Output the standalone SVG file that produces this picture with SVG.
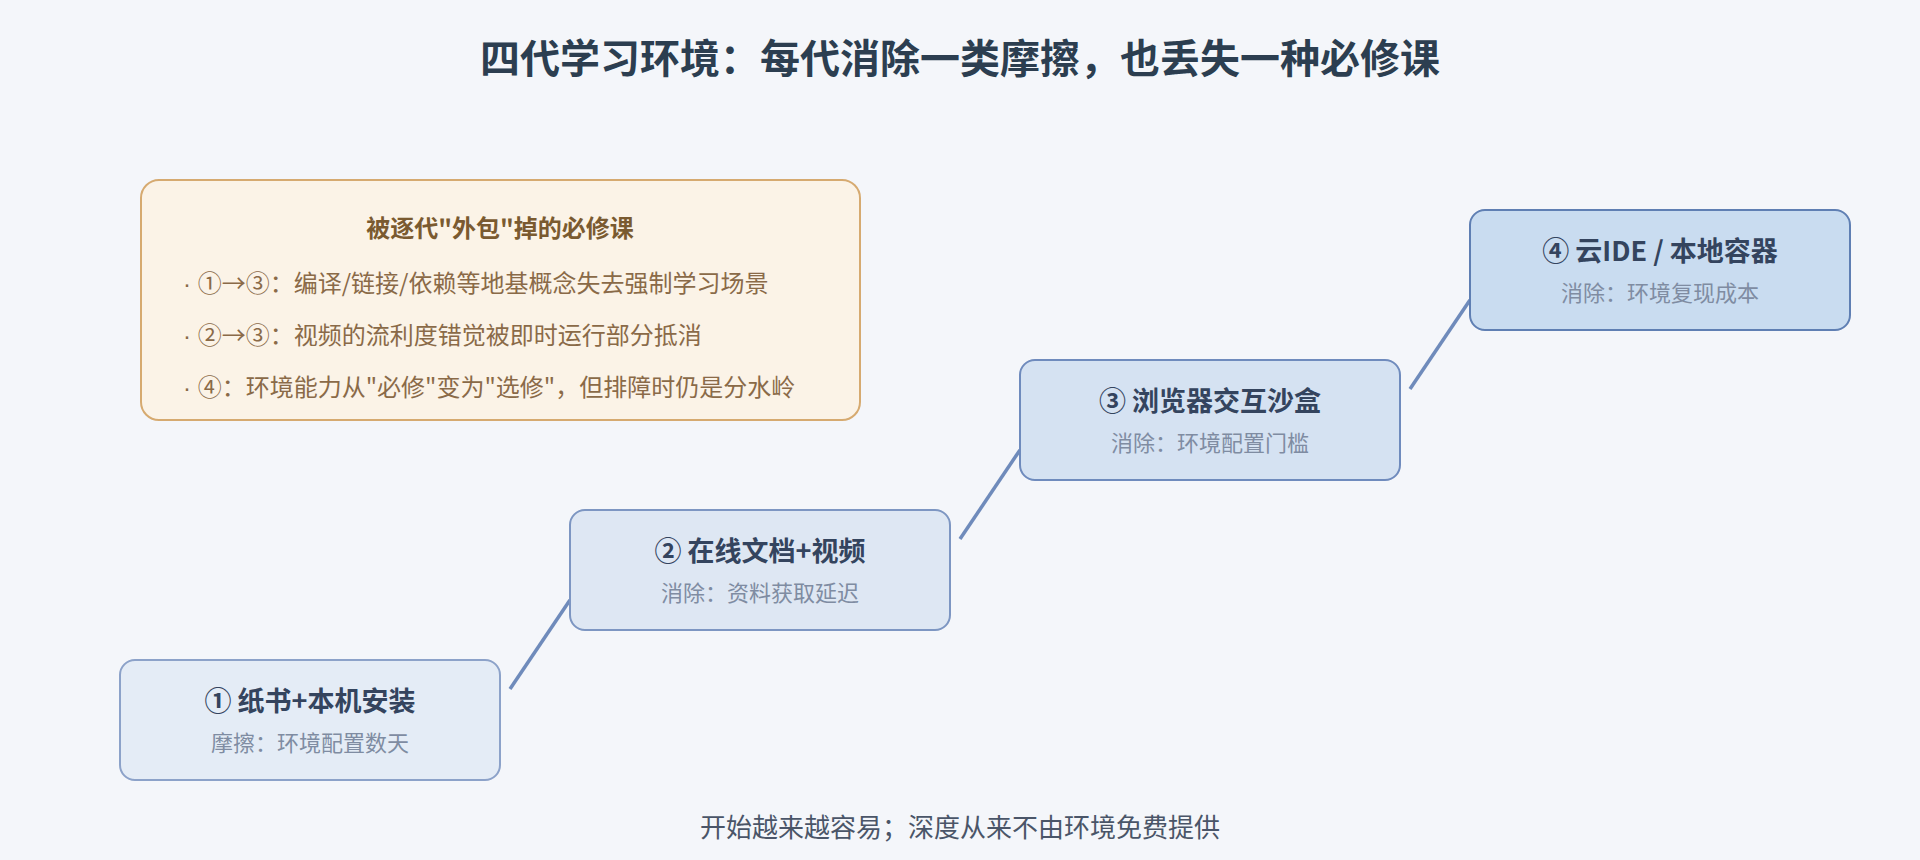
<svg xmlns="http://www.w3.org/2000/svg" width="1920" height="860" viewBox="0 0 1920 860">
<style>
text{font-family:"Noto Sans CJK SC","Liberation Sans",sans-serif;}
.title{font-size:40px;font-weight:700;fill:#2c3e50;text-anchor:middle;}
.nt{font-size:27px;font-weight:700;fill:#34445e;text-anchor:middle;}
.ns{font-size:22px;fill:#7f8ca2;text-anchor:middle;}
.node{stroke-width:2;}
.conn{stroke:#6f8bbb;stroke-width:3.5;fill:none;stroke-linecap:butt;}
.nh{font-size:24px;font-weight:700;fill:#7a5a30;text-anchor:middle;}
.nl{font-size:24px;fill:#8a6a48;}
.dot{font-family:"Liberation Sans",sans-serif;}
.foot{font-size:26px;fill:#4a5568;text-anchor:middle;}
</style>
<rect width="1920" height="860" fill="#f4f6fa"/>
<text class="title" x="960" y="73">四代学习环境：每代消除一类摩擦，也丢失一种必修课</text>

<g id="note">
<rect x="141" y="180" width="719" height="240" rx="18" fill="#fbf3e7" stroke="#d6aa70" stroke-width="2"/>
<text class="nh" x="500" y="237">被逐代"外包"掉的必修课</text>
<text class="nl" x="183" y="292"><tspan class="dot">· </tspan>①→③：编译/链接/依赖等地基概念失去强制学习场景</text>
<text class="nl" x="183" y="344"><tspan class="dot">· </tspan>②→③：视频的流利度错觉被即时运行部分抵消</text>
<text class="nl" x="183" y="396"><tspan class="dot">· </tspan>④：环境能力从"必修"变为"选修"，但排障时仍是分水岭</text>
</g>

<g id="connectors">
<line class="conn" x1="510" y1="689" x2="570" y2="600"/>
<line class="conn" x1="960" y1="539" x2="1020" y2="450"/>
<line class="conn" x1="1410" y1="389" x2="1470" y2="300"/>
</g>

<g id="n1">
<rect class="node" x="120" y="660" width="380" height="120" rx="15" fill="#e4ecf6" stroke="#8ca2c9"/>
<text class="nt" x="310" y="711">① 纸书+本机安装</text>
<text class="ns" x="310" y="751">摩擦：环境配置数天</text>
</g>
<g id="n2">
<rect class="node" x="570" y="510" width="380" height="120" rx="15" fill="#dee7f3" stroke="#7d96c2"/>
<text class="nt" x="760" y="561">② 在线文档+视频</text>
<text class="ns" x="760" y="601">消除：资料获取延迟</text>
</g>
<g id="n3">
<rect class="node" x="1020" y="360" width="380" height="120" rx="15" fill="#d5e2f2" stroke="#6f8bbd"/>
<text class="nt" x="1210" y="411">③ 浏览器交互沙盒</text>
<text class="ns" x="1210" y="451">消除：环境配置门槛</text>
</g>
<g id="n4">
<rect class="node" x="1470" y="210" width="380" height="120" rx="15" fill="#c9dcf0" stroke="#5f7fb3"/>
<text class="nt" x="1660" y="261">④ 云IDE / 本地容器</text>
<text class="ns" x="1660" y="301">消除：环境复现成本</text>
</g>

<text class="foot" x="960" y="837">开始越来越容易；深度从来不由环境免费提供</text>
</svg>
